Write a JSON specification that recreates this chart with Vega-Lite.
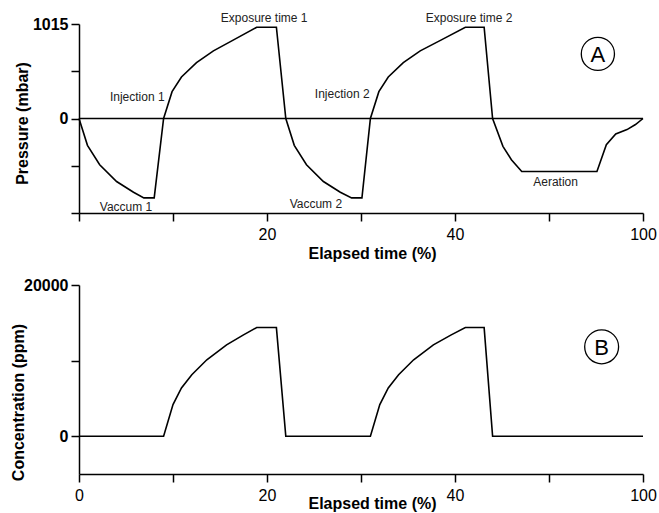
{
  "$schema": "https://vega.github.io/schema/vega-lite/v6.json",
  "padding": {"left": 9, "top": 11, "right": 2, "bottom": 2},
  "spacing": 16,
  "config": {
    "view": {"stroke": null},
    "font": "Liberation Sans",
    "axis": {
      "domainColor": "black", "domainWidth": 1.5, "tickColor": "black", "tickWidth": 1.5, "tickSize": 8,
      "grid": false, "labelColor": "black", "titleColor": "black", "labelFont": "Liberation Sans", "titleFont": "Liberation Sans"
    }
  },
  "datasets": {
    "pressure": [
      {"t": 0, "P": 0}, {"t": 0.9, "P": -288}, {"t": 2.2, "P": -497}, {"t": 4.0, "P": -677}, {"t": 5.8, "P": -792}, {"t": 6.9, "P": -853}, {"t": 8.0, "P": -853},
      {"t": 9.0, "P": 0}, {"t": 9.9, "P": 288}, {"t": 10.9, "P": 446}, {"t": 12.5, "P": 600}, {"t": 14.3, "P": 727}, {"t": 16.4, "P": 842}, {"t": 18.9, "P": 980}, {"t": 21.0, "P": 980},
      {"t": 22.0, "P": 0}, {"t": 22.9, "P": -288}, {"t": 24.2, "P": -497}, {"t": 26.0, "P": -677}, {"t": 27.8, "P": -792}, {"t": 29.0, "P": -853}, {"t": 30.1, "P": -853},
      {"t": 31.0, "P": 0}, {"t": 31.9, "P": 288}, {"t": 32.9, "P": 446}, {"t": 34.5, "P": 600}, {"t": 36.3, "P": 727}, {"t": 38.5, "P": 842}, {"t": 41.1, "P": 980}, {"t": 43.1, "P": 980},
      {"t": 44.0, "P": 0}, {"t": 45.1, "P": -299}, {"t": 46.0, "P": -443}, {"t": 47.1, "P": -569}, {"t": 55.1, "P": -569},
      {"t": 56.1, "P": -281}, {"t": 57.1, "P": -166}, {"t": 58.3, "P": -119}, {"t": 59.2, "P": -65}, {"t": 60.0, "P": 0}
    ],
    "conc": [
      {"t": 0, "C": 0}, {"t": 9.0, "C": 0}, {"t": 10.0, "C": 4180}, {"t": 10.9, "C": 6380}, {"t": 12.0, "C": 8130}, {"t": 13.6, "C": 10110}, {"t": 15.7, "C": 12090}, {"t": 17.5, "C": 13400}, {"t": 18.9, "C": 14370}, {"t": 21.0, "C": 14370}, {"t": 22.0, "C": 0},
      {"t": 31.0, "C": 0}, {"t": 32.0, "C": 4180}, {"t": 32.9, "C": 6380}, {"t": 34.0, "C": 8130}, {"t": 35.6, "C": 10110}, {"t": 37.7, "C": 12090}, {"t": 39.6, "C": 13400}, {"t": 41.1, "C": 14370}, {"t": 43.1, "C": 14370}, {"t": 44.0, "C": 0}, {"t": 60.0, "C": 0}
    ],
    "zero": [{"v": 0}],
    "notesA": [
      {"label": "Exposure time 1", "t": 19.7, "v": 1083},
      {"label": "Injection 1", "t": 6.2, "v": 230},
      {"label": "Vaccum 1", "t": 5.0, "v": -947},
      {"label": "Exposure time 2", "t": 41.5, "v": 1083},
      {"label": "Injection 2", "t": 28.0, "v": 265},
      {"label": "Vaccum 2", "t": 25.2, "v": -920},
      {"label": "Aeration", "t": 50.7, "v": -677}
    ],
    "badgeA": [{"label": "A", "t": 55.2, "v": 694}],
    "badgeB": [{"label": "B", "t": 55.6, "v": 11820}]
  },
  "vconcat": [
    {
      "width": 564, "height": 189,
      "layer": [
        {"data": {"name": "pressure"}, "mark": {"type": "line", "color": "black", "strokeWidth": 1.6},
          "encoding": {
            "x": {"field": "t", "type": "quantitative", "scale": {"domain": [0, 60], "nice": false, "zero": false},
              "axis": {"values": [0, 10, 20, 30, 40, 50, 60], "labelExpr": "datum.value == 60 ? '100' : (datum.value == 20 || datum.value == 40) ? datum.label : ''",
                "labelFontSize": 16, "labelPadding": 5, "title": "Elapsed time (%)", "titleFontSize": 16, "titleFontWeight": "bold", "titlePadding": 3, "titleX": 293, "labelFlush": false}},
            "y": {"field": "P", "type": "quantitative", "scale": {"domain": [-1015, 1015], "nice": false, "zero": false},
              "axis": {"values": [-1015, -507.5, 0, 507.5, 1015], "labelExpr": "(datum.value == 0 || datum.value == 1015) ? datum.label : ''", "format": "d",
                "labelFontSize": 16, "labelFontWeight": "bold", "labelPadding": 3, "title": "Pressure (mbar)", "titleFontSize": 16, "titleFontWeight": "bold",
                "titleX": -57, "titleY": 99, "titleBaseline": "middle", "titleAlign": "center", "labelFlush": false}}
          }},
        {"data": {"name": "zero"}, "mark": {"type": "rule", "color": "black", "strokeWidth": 1.3},
          "encoding": {"y": {"field": "v", "type": "quantitative"}}},
        {"data": {"name": "notesA"}, "mark": {"type": "text", "fontSize": 12, "color": "#222", "font": "Liberation Sans"},
          "encoding": {"x": {"field": "t", "type": "quantitative"}, "y": {"field": "v", "type": "quantitative"}, "text": {"field": "label"}}},
        {"data": {"name": "badgeA"}, "mark": {"type": "point", "shape": "circle", "filled": false, "stroke": "black", "strokeWidth": 1.3, "size": 1100, "opacity": 1},
          "encoding": {"x": {"field": "t", "type": "quantitative"}, "y": {"field": "v", "type": "quantitative"}}},
        {"data": {"name": "badgeA"}, "mark": {"type": "text", "fontSize": 22, "color": "black", "dy": 1},
          "encoding": {"x": {"field": "t", "type": "quantitative"}, "y": {"field": "v", "type": "quantitative"}, "text": {"field": "label"}}}
      ]
    },
    {
      "width": 564, "height": 189,
      "encoding": {
        "x": {"field": "t", "type": "quantitative", "scale": {"domain": [0, 60], "nice": false, "zero": false},
          "axis": {"values": [0, 10, 20, 30, 40, 50, 60], "labelExpr": "datum.value == 60 ? '100' : (datum.value == 0 || datum.value == 20 || datum.value == 40) ? datum.label : ''",
            "labelFontSize": 16, "labelPadding": 5, "title": "Elapsed time (%)", "titleFontSize": 16, "titleFontWeight": "bold", "titlePadding": -8, "titleX": 293, "labelFlush": false}},
        "y": {"field": "C", "type": "quantitative", "scale": {"domain": [-5000, 20000], "nice": false, "zero": false},
          "axis": {"values": [0, 10000, 20000], "labelExpr": "(datum.value == 0 || datum.value == 20000) ? datum.label : ''", "format": "d",
            "labelFontSize": 16, "labelFontWeight": "bold", "labelPadding": 3, "title": "Concentration (ppm)", "titleFontSize": 16, "titleFontWeight": "bold",
            "titleX": -61, "titleY": 117, "titleBaseline": "middle", "titleAlign": "center", "labelFlush": false}}
      },
      "layer": [
        {"data": {"name": "conc"}, "mark": {"type": "line", "color": "black", "strokeWidth": 1.6}},
        {"data": {"name": "badgeB"}, "mark": {"type": "point", "shape": "circle", "filled": false, "stroke": "black", "strokeWidth": 1.3, "size": 1150, "opacity": 1},
          "encoding": {"y": {"field": "v", "type": "quantitative"}}},
        {"data": {"name": "badgeB"}, "mark": {"type": "text", "fontSize": 22, "color": "black", "dy": 1},
          "encoding": {"y": {"field": "v", "type": "quantitative"}, "text": {"field": "label"}}}
      ]
    }
  ]
}
